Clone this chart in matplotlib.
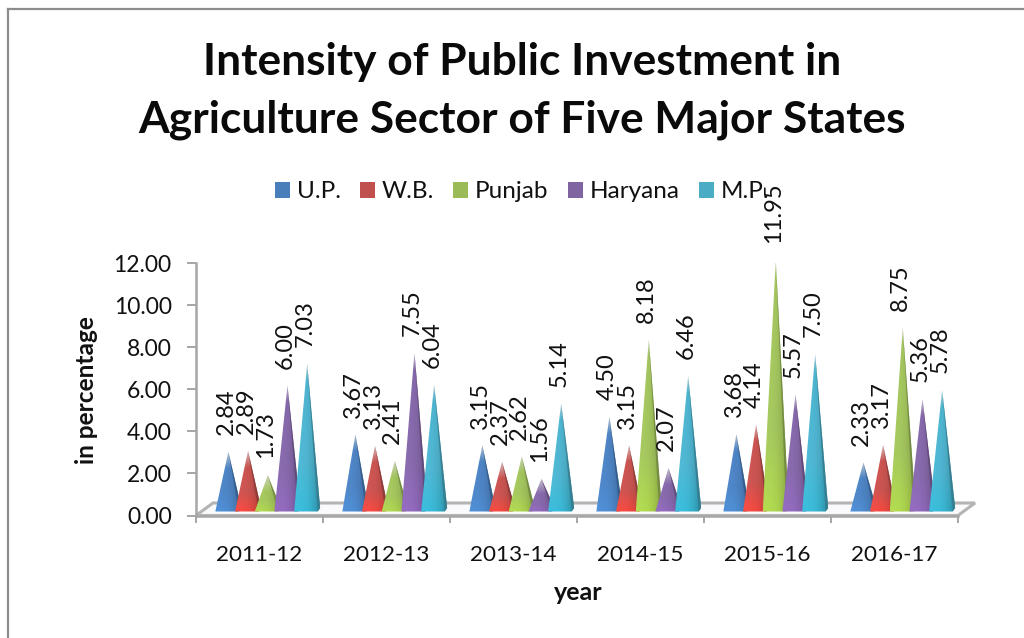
import numpy as np
import matplotlib
matplotlib.use("Agg")
import matplotlib.pyplot as plt
from matplotlib.colors import to_rgb
from matplotlib.lines import Line2D
from matplotlib.patches import Patch, Polygon

# Public investment intensity, in percent, by state and year
years = ["2011-12", "2012-13", "2013-14", "2014-15", "2015-16", "2016-17"]
up = [2.84, 3.67, 3.15, 4.50, 3.68, 2.33]
wb = [2.89, 3.13, 2.37, 3.15, 4.14, 3.17]
punjab = [1.73, 2.41, 2.62, 8.18, 11.95, 8.75]
haryana = [6.00, 7.55, 1.56, 2.07, 5.57, 5.36]
mp = [7.03, 6.04, 5.14, 6.46, 7.50, 5.78]

states = ["U.P.", "W.B.", "Punjab", "Haryana", "M.P."]
series = [up, wb, punjab, haryana, mp]
colors = ["#4A7EBB", "#C0504D", "#9BBB59", "#8064A2", "#4BACC6"]
base_tints = ["#4A86C8", "#E8453C", "#A6CC4A", "#8A64B4", "#35B0CC"]

FONT = "Lato"
W, H = 1024, 638
LEFT, RIGHT, BOTTOM, TOP = 196, 958, 515.5, 263
GREY = "#A6A6A6"

plt.rcParams["font.family"] = FONT
fig = plt.figure(figsize=(W / 100, H / 100), dpi=100, facecolor="white")
ax = fig.add_axes([LEFT / W, 1 - BOTTOM / H, (RIGHT - LEFT) / W, (BOTTOM - TOP) / H])
ax.set_facecolor("none")

px_x = len(years) / (RIGHT - LEFT)
px_y = 12 / (BOTTOM - TOP)

# Floor of the pseudo-3D plot area
dx, dy = 17 * px_x, 12.5 * px_y
floor = Polygon([(0, 0), (6, 0), (6 + dx, dy), (dx, dy)], closed=True, facecolor="#FAFAFD",
                edgecolor="#B4B4B4", linewidth=2.2, clip_on=False, zorder=1)
ax.add_patch(floor)


def shaded_face(tint, shade, rows=120, cols=40, tip_fade=0.0):
    """Gradient image for one pyramid: vivid at the base, paler at the tip, darker rightwards."""
    base = np.array(to_rgb(tint))
    mid = np.array(to_rgb(shade))
    v = np.linspace(0, 1, rows)[:, None, None]       # 0 at bottom row, 1 at top row
    u = np.linspace(0, 1, cols)[None, :, None]
    rgb = base * (1 - np.minimum(v * 3, 1)) + mid * np.minimum(v * 3, 1)
    rgb = rgb * (1.08 - 0.30 * u ** 3)
    if tip_fade > 0:
        t = np.clip((v - (1 - tip_fade)) / tip_fade, 0, 1)
        rgb = rgb * (1 - 0.75 * t) + 0.85 * 0.75 * t
    return np.clip(rgb, 0, 1)


# Pyramids, one gradient-filled image per value, clipped to the pyramid outline
lift = 4 * px_y
half_w = 13 * px_x
front_r = 10.5 * px_x
step = 19.7 * px_x
first = 0.565 - 2 * step
for s, (values, color, tint) in enumerate(zip(series, colors, base_tints)):
    for i, value in enumerate(values):
        c = i + first + s * step
        tip = value + lift
        height_px = value / px_y
        image = shaded_face(tint, color, tip_fade=min(0.45, 16 / height_px))
        outline = Polygon([(c - half_w, lift), (c + front_r, lift), (c + half_w, lift + 3.5 * px_y), (c, tip)],
                          closed=True, transform=ax.transData)
        im = ax.imshow(image, extent=(c - half_w, c + half_w, lift, tip), origin="lower",
                       aspect="auto", interpolation="bilinear", zorder=3 + s * 0.1)
        im.set_clip_path(outline)
        side = Polygon([(c + front_r, lift), (c + half_w, lift + 3.5 * px_y), (c, tip)], closed=True,
                       facecolor=tuple(0.72 * np.array(to_rgb(color))), edgecolor="none",
                       zorder=3.05 + s * 0.1, alpha=0.85)
        ax.add_patch(side)
        ax.annotate(f"{value:.2f}", xy=(c, tip), xytext=(-1.5, 12), textcoords="offset points",
                    rotation=90, ha="center", va="bottom", fontsize=17, color="#111111",
                    annotation_clip=False, zorder=6)

ax.set_xlim(0, 6)
ax.set_ylim(0, 12)
ax.set_yticks(np.arange(0, 13, 2))
ax.set_yticklabels([f"{t:.2f}" for t in np.arange(0, 13, 2)], fontsize=16.5, color="#111111")
ax.set_xticks(np.arange(0, 7))
ax.set_xticklabels([])
ax.set_xticks(np.arange(0.5, 6), labels=years, minor=True, fontsize=16.2, color="#111111")
ax.tick_params(axis="y", length=6.5, width=1.4, color=GREY, pad=11)
ax.tick_params(axis="x", which="major", length=5, width=1.4, color=GREY)
ax.tick_params(axis="x", which="minor", length=0, pad=21.5)
for name in ("top", "right"):
    ax.spines[name].set_visible(False)
for name in ("left", "bottom"):
    ax.spines[name].set_color(GREY)
    ax.spines[name].set_linewidth(1.8)

fig.text(87 / W, 1 - 390 / H, "in percentage", rotation=90, ha="center", va="center",
         fontsize=17.6, fontweight="bold", color="#111111")
fig.text(578 / W, 1 - 592 / H, "year", ha="center", va="center",
         fontsize=18, fontweight="bold", color="#111111")

for text, y in (("Intensity of Public Investment in", 62),
                ("Agriculture Sector of Five Major States", 120)):
    fig.text(522 / W, 1 - y / H, text, ha="center", va="center",
             fontsize=31.9, fontweight="bold", color="#0A0A0A")

legend_pt = 17.5
fs_px = legend_pt / 0.72
legend = fig.legend(handles=[Patch(facecolor=c, edgecolor="none", label=n) for c, n in zip(colors, states)],
                    loc="center", bbox_to_anchor=(522 / W, 1 - 192 / H), ncol=5, frameon=False,
                    fontsize=legend_pt, handlelength=15 / fs_px, handleheight=15 / fs_px,
                    handletextpad=7 / fs_px, columnspacing=19 / fs_px, labelcolor="#111111")
legend.set_zorder(1)

# Chart frame: only the top and left edges remain in view
frame = dict(color="#8C8C8C", linewidth=1.6, transform=fig.transFigure)
fig.add_artist(Line2D([8 / W, 8 / W], [0, 1 - 9 / H], **frame))
fig.add_artist(Line2D([8 / W, 1], [1 - 9 / H, 1 - 9 / H], **frame))

fig.savefig("out.png", dpi=100)
